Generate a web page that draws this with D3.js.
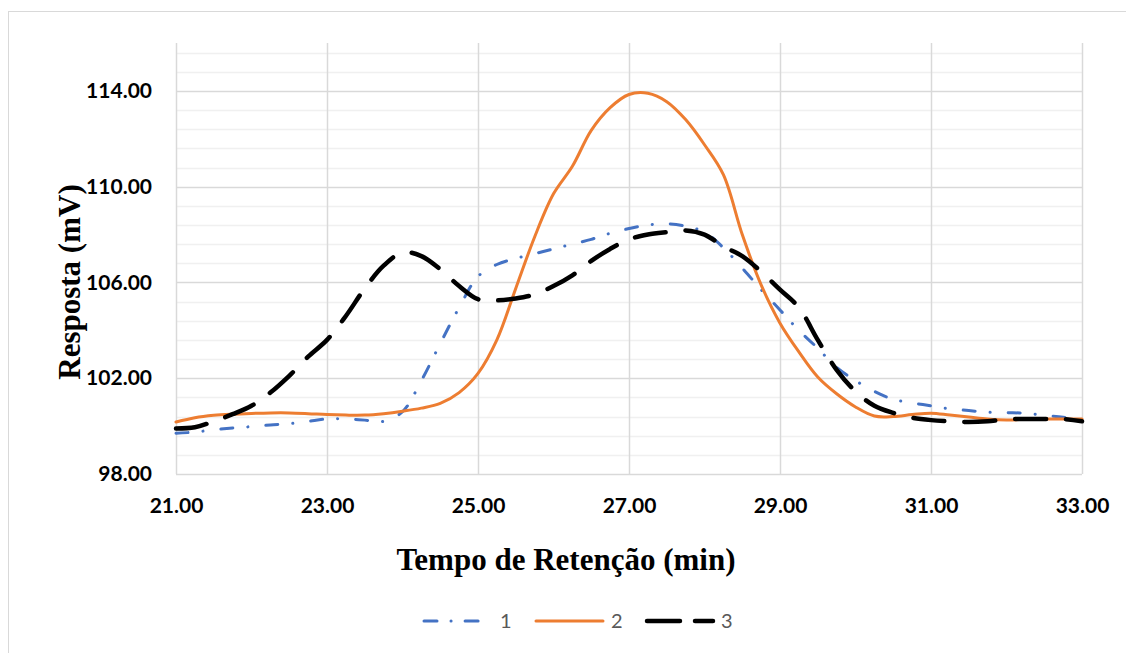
<!DOCTYPE html>
<html>
<head>
<meta charset="utf-8">
<script src="https://cdn.jsdelivr.net/npm/d3@7/dist/d3.min.js"></script>
<style>
  html, body { margin: 0; padding: 0; background: #fff; }
  svg { display: block; }
</style>
</head>
<body>
<script>
// ---- data ----
const times = [21.0,21.25,21.5,21.75,22.0,22.25,22.5,22.75,23.0,23.25,23.5,23.75,24.0,24.25,24.5,24.75,
  25.0,25.25,25.5,25.75,26.0,26.25,26.5,26.75,27.0,27.25,27.5,27.75,28.0,28.25,28.5,28.75,
  29.0,29.25,29.5,29.75,30.0,30.25,30.5,30.75,31.0,31.25,31.5,31.75,32.0,32.25,32.5,32.75,33.0];

const series1 = [99.7,99.75,99.85,99.92,99.98,100.05,100.1,100.2,100.3,100.3,100.25,100.2,100.6,101.9,103.45,104.95,
  106.25,106.75,107.0,107.2,107.4,107.6,107.8,108.05,108.25,108.4,108.45,108.35,108.1,107.45,106.6,105.7,
  104.85,104.0,103.25,102.45,101.9,101.45,101.12,100.97,100.85,100.72,100.65,100.58,100.56,100.54,100.45,100.37,100.22];

const series2 = [100.17,100.35,100.45,100.5,100.53,100.55,100.55,100.52,100.48,100.46,100.46,100.52,100.62,100.75,100.95,101.4,
  102.2,103.6,105.75,107.9,109.7,110.85,112.35,113.3,113.85,113.9,113.55,112.8,111.75,110.5,108.0,105.9,
  104.3,103.1,102.05,101.35,100.8,100.42,100.4,100.48,100.54,100.46,100.38,100.3,100.26,100.28,100.3,100.3,100.3];

const series3 = [99.9,99.95,100.2,100.5,100.85,101.4,102.1,102.9,103.6,104.6,105.75,106.7,107.25,107.1,106.55,105.85,
  105.3,105.25,105.33,105.5,105.85,106.3,106.9,107.4,107.8,108.0,108.1,108.17,108.0,107.5,107.1,106.45,
  105.7,104.95,103.6,102.35,101.45,100.85,100.55,100.35,100.25,100.2,100.17,100.2,100.28,100.3,100.3,100.3,100.2];

const seriesNames = ["1", "2", "3"];
const xTicks = [21, 23, 25, 27, 29, 31, 33];
const yTicks = [98, 102, 106, 110, 114];
const xTitle = "Tempo de Retenção (min)";
const yTitle = "Resposta (mV)";

// ---- layout ----
const W = 1126, H = 653;
const plot = { left: 176, right: 1082, top: 43, bottom: 474 };

const svg = d3.select("body").append("svg").attr("width", W).attr("height", H);

// chart border
svg.append("rect").attr("x", 8.5).attr("y", 11.5).attr("width", 1130).attr("height", 660)
  .attr("fill", "#fff").attr("stroke", "#d9d9d9").attr("stroke-width", 1);

const x = d3.scaleLinear().domain([21, 33]).range([plot.left, plot.right]);
const y = d3.scaleLinear().domain([98, 116]).range([plot.bottom, plot.top]);

// minor horizontal gridlines (every 0.8)
const minor = d3.range(98.8, 116, 0.8).filter(v => !yTicks.some(t => Math.abs(t - v) < 1e-6));
svg.append("g").selectAll("line").data(minor).join("line")
  .attr("x1", plot.left).attr("x2", plot.right)
  .attr("y1", d => Math.round(y(d)) + 0.5).attr("y2", d => Math.round(y(d)) + 0.5)
  .attr("stroke", "#f0f0f0").attr("stroke-width", 1.5);

// major horizontal gridlines
svg.append("g").selectAll("line").data(yTicks).join("line")
  .attr("x1", plot.left).attr("x2", plot.right)
  .attr("y1", d => Math.round(y(d)) + 0.5).attr("y2", d => Math.round(y(d)) + 0.5)
  .attr("stroke", "#d9d9d9").attr("stroke-width", 1.5);

// vertical gridlines
svg.append("g").selectAll("line").data(xTicks).join("line")
  .attr("x1", d => Math.round(x(d)) + 0.5).attr("x2", d => Math.round(x(d)) + 0.5)
  .attr("y1", plot.top).attr("y2", plot.bottom)
  .attr("stroke", "#d9d9d9").attr("stroke-width", 1.5);

// axes (labels only)
const tickFont = "Lato, 'Open Sans', sans-serif";
const xAxis = d3.axisBottom(x).tickValues(xTicks).tickFormat(d3.format(".2f")).tickSize(0).tickPadding(24);
const gx = svg.append("g").attr("transform", `translate(0,${plot.bottom})`).call(xAxis);
gx.select(".domain").remove();
gx.selectAll("text").attr("font-family", tickFont).attr("font-weight", 700)
  .attr("font-size", 21).attr("fill", "#000");

const yAxis = d3.axisLeft(y).tickValues(yTicks).tickFormat(d3.format(".2f")).tickSize(0).tickPadding(24);
const gy = svg.append("g").attr("transform", `translate(${plot.left},0)`).call(yAxis);
gy.select(".domain").remove();
gy.selectAll("text").attr("font-family", tickFont).attr("font-weight", 700)
  .attr("font-size", 21).attr("fill", "#000");

// axis titles
svg.append("text").attr("x", 566).attr("y", 570).attr("text-anchor", "middle")
  .attr("font-family", "'Liberation Serif', 'Times New Roman', serif").attr("font-weight", 700)
  .attr("font-size", 31).attr("fill", "#000").text(xTitle);

svg.append("text").attr("transform", "translate(80,282) rotate(-90)").attr("text-anchor", "middle")
  .attr("font-family", "'Liberation Serif', 'Times New Roman', serif").attr("font-weight", 700)
  .attr("font-size", 31).attr("fill", "#000").text(yTitle);

// lines
const styles = [
  { color: "#4472C4", width: 3, dash: "12,15,0.1,18", cap: "round" },
  { color: "#ED7D31", width: 3, dash: null, cap: "round" },
  { color: "#000000", width: 4.5, dash: "31,20", cap: "round" }
];
const allSeries = [series1, series2, series3];
const line = d3.line().x((d, i) => x(times[i])).y(d => y(d)).curve(d3.curveCatmullRom.alpha(0.5));

allSeries.forEach((s, k) => {
  svg.append("path").datum(s).attr("d", line)
    .attr("fill", "none").attr("stroke", styles[k].color).attr("stroke-width", styles[k].width)
    .attr("stroke-linecap", styles[k].cap).attr("stroke-linejoin", "round")
    .attr("stroke-dasharray", styles[k].dash);
});

// legend
const legendItems = [
  { x1: 424, x2: 482, tx: 500 },
  { x1: 536, x2: 603, tx: 611 },
  { x1: 647, x2: 713, tx: 721 }
];
const lg = svg.append("g");
legendItems.forEach((it, k) => {
  lg.append("line").attr("x1", it.x1).attr("x2", it.x2).attr("y1", 621).attr("y2", 621)
    .attr("stroke", styles[k].color).attr("stroke-width", styles[k].width)
    .attr("stroke-linecap", styles[k].cap)
    .attr("stroke-dasharray", k === 0 ? "13,14,0.1,14,13" : (k === 2 ? "33,15,33" : null));
  lg.append("text").attr("x", it.tx).attr("y", 628)
    .attr("font-family", "Lato, 'Open Sans', sans-serif").attr("font-size", 20)
    .attr("fill", "#595959").text(seriesNames[k]);
});
</script>
</body>
</html>
